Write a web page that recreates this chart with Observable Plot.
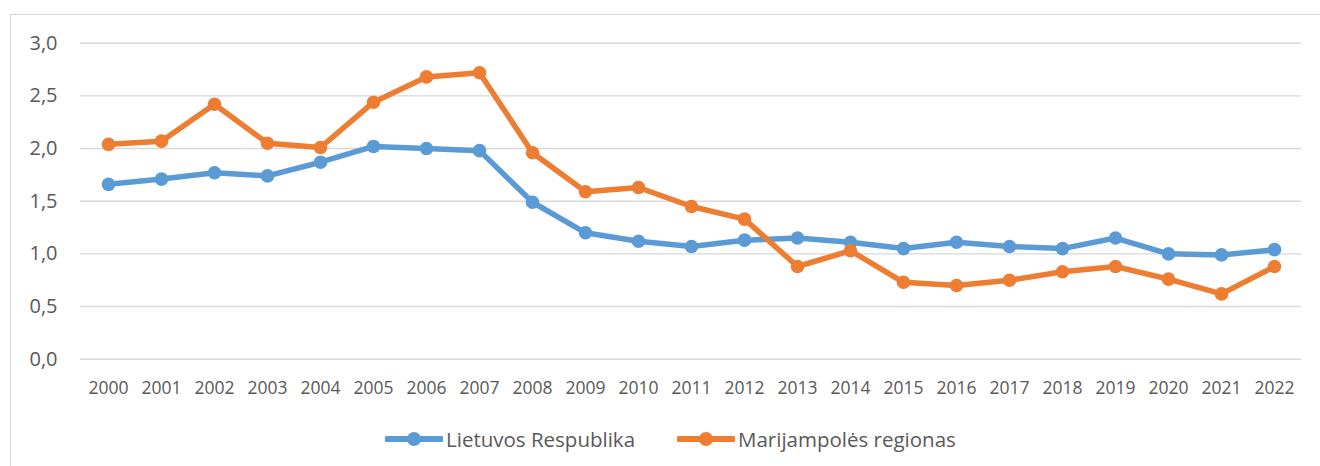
<!DOCTYPE html>
<html>
<head>
<meta charset="utf-8">
<script src="https://cdn.jsdelivr.net/npm/d3@7"></script>
<script src="https://cdn.jsdelivr.net/npm/@observablehq/plot@0.6"></script>
<style>
  html, body { margin: 0; padding: 0; background: #fff; overflow: hidden; width: 1320px; height: 466px; }
  #wrap { position: relative; width: 1320px; height: 466px; font-family: "Open Sans", sans-serif; }
  #frame { position: absolute; left: 9.5px; top: 13.5px; width: 2000px; height: 1000px; border: 1.5px solid #d9d9d9; box-sizing: border-box; }
  #chart { position: absolute; left: 0; top: 0; }
  #legend { position: absolute; left: 0; top: 424px; width: 1320px; height: 30px; }
  .item { position: absolute; top: 0; height: 30px; display: flex; align-items: center; color: #595959; font-size: 20.5px; }
  .item svg { margin-right: 3px; }
</style>
</head>
<body>
<div id="wrap">
  <div id="frame"></div>
  <div id="chart"></div>
  <div id="legend"></div>
</div>
<script>
const years = ["2000","2001","2002","2003","2004","2005","2006","2007","2008","2009","2010","2011","2012","2013","2014","2015","2016","2017","2018","2019","2020","2021","2022"];
const lietuvosRespublika = [1.66,1.71,1.77,1.74,1.87,2.02,2.00,1.98,1.49,1.20,1.12,1.07,1.13,1.15,1.11,1.05,1.11,1.07,1.05,1.15,1.00,0.99,1.04];
const marijampolesRegionas = [2.04,2.07,2.42,2.05,2.01,2.44,2.68,2.72,1.96,1.59,1.63,1.45,1.33,0.88,1.03,0.73,0.70,0.75,0.83,0.88,0.76,0.62,0.88];
const seriesNames = ["Lietuvos Respublika", "Marijampolės regionas"];
const seriesColors = ["#5b9bd5", "#ed7d31"];
const yTicks = [0, 0.5, 1, 1.5, 2, 2.5, 3];

const seriesValues = [lietuvosRespublika, marijampolesRegionas];
const tables = seriesValues.map((vals, i) => years.map((yr, j) => ({year: yr, value: vals[j], series: seriesNames[i]})));

const fmt = d => d.toFixed(1).replace(".", ",");

const marks = [
  Plot.gridY(yTicks, {stroke: "#d9d9d9", strokeOpacity: 1, strokeWidth: 1.4}),
  Plot.axisY(yTicks, {tickSize: 0, tickPadding: 23, tickFormat: fmt, fontSize: 20, fill: "#595959", label: null}),
  Plot.axisX(years, {tickSize: 0, tickPadding: 22, fontSize: 17.5, fill: "#595959", label: null})
];
tables.forEach((t, i) => {
  marks.push(Plot.line(t, {x: "year", y: "value", stroke: seriesColors[i], strokeWidth: 5.5, strokeLinejoin: "round", strokeLinecap: "round"}));
  marks.push(Plot.dot(t, {x: "year", y: "value", fill: seriesColors[i], r: 6.8, stroke: "none"}));
});

const chart = Plot.plot({
  width: 1320,
  height: 410,
  marginLeft: 80,
  marginRight: 19,
  marginTop: 42.7,
  marginBottom: 51.3,
  style: {background: "transparent", fontFamily: "'Open Sans', sans-serif", color: "#595959"},
  x: {type: "point", domain: years, padding: 0.5, axis: null, label: null},
  y: {domain: [0, 3], axis: null, label: null},
  marks
});
document.getElementById("chart").appendChild(chart);

// legend
const legend = document.getElementById("legend");
const positions = [385, 677];
seriesNames.forEach((name, i) => {
  const item = document.createElement("div");
  item.className = "item";
  item.style.left = positions[i] + "px";
  item.innerHTML = `<svg width="58" height="20"><line x1="2" y1="10" x2="56" y2="10" stroke="${seriesColors[i]}" stroke-width="6" stroke-linecap="round"/><circle cx="29" cy="10" r="7" fill="${seriesColors[i]}"/></svg><span>${name}</span>`;
  legend.appendChild(item);
});
</script>
</body>
</html>
